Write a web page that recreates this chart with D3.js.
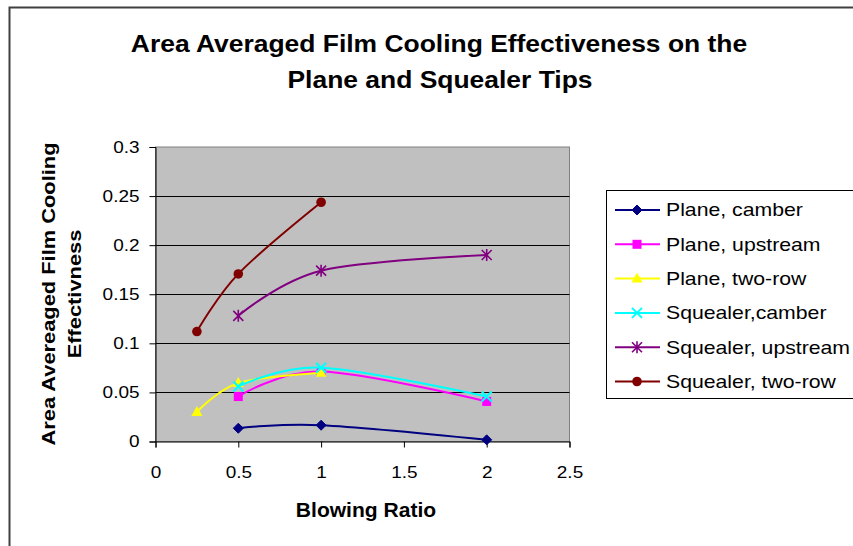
<!DOCTYPE html>
<html>
<head>
<meta charset="utf-8">
<script src="https://cdn.jsdelivr.net/npm/d3@7"></script>
<style>
  html, body { margin: 0; padding: 0; background: #fff; }
  svg { display: block; font-family: "Liberation Sans", Arial, sans-serif; }
</style>
</head>
<body>
<svg id="chart" width="853" height="546"></svg>
<script>
// Blowing ratios tested and the area-averaged effectiveness for each tip / hole configuration
const seriesNames = ["Plane, camber", "Plane, upstream", "Plane, two-row",
                     "Squealer,camber", "Squealer, upstream", "Squealer, two-row"];
const seriesX = [
  [0.5, 1, 2],
  [0.5, 1, 2],
  [0.25, 0.5, 1],
  [0.5, 1, 2],
  [0.5, 1, 2],
  [0.25, 0.5, 1]
];
const seriesY = [
  [0.0135, 0.0166, 0.0017],
  [0.0458, 0.0712, 0.0408],
  [0.0300, 0.0595, 0.0700],
  [0.0560, 0.0752, 0.0458],
  [0.1280, 0.1740, 0.1900],
  [0.1120, 0.1707, 0.2437]
];
const seriesColors = ["#000080", "#FF00FF", "#FFFF00", "#00FFFF", "#800080", "#800000"];
const seriesMarkers = ["diamond", "square", "triangle", "x", "star", "circle"];
const xTicks = [0, 0.5, 1, 1.5, 2, 2.5];
const yTicks = [0, 0.05, 0.1, 0.15, 0.2, 0.25, 0.3];

// glyphs in this chart are a little wider than plain Arial
const SX = 1.15;
function widen(sel, sx, ax, ay) {
  sel.attr("transform", `translate(${ax},${ay}) scale(${sx},1) translate(${-ax},${-ay})`);
}

const svg = d3.select("#chart");

// outer chart frame
svg.append("rect").attr("x", 9.5).attr("y", 7.5).attr("width", 860).attr("height", 560)
  .attr("fill", "#fff").attr("stroke", "#404040").attr("stroke-width", 2);

const plot = { left: 155.5, right: 569.5, top: 147, bottom: 441.5 };
const x = d3.scaleLinear().domain([0, 2.5]).range([plot.left, plot.right]);
const y = d3.scaleLinear().domain([0, 0.3]).range([plot.bottom, plot.top]);

// plot background
svg.append("rect").attr("x", plot.left).attr("y", plot.top)
  .attr("width", plot.right - plot.left).attr("height", plot.bottom - plot.top)
  .attr("fill", "#C0C0C0").attr("stroke", "#808080").attr("stroke-width", 1);

// horizontal gridlines
svg.append("g").selectAll("line").data(yTicks.filter(d => d > 0 && d < 0.3)).join("line")
  .attr("x1", plot.left).attr("x2", plot.right)
  .attr("y1", d => Math.round(y(d)) + 0.5).attr("y2", d => Math.round(y(d)) + 0.5)
  .attr("stroke", "#000").attr("stroke-width", 1);

// axes
const fmt = d => String(d);
const yAxis = svg.append("g").attr("transform", `translate(${plot.left},0)`)
  .call(d3.axisLeft(y).tickValues(yTicks).tickFormat(fmt).tickSizeOuter(0).tickSize(6).tickPadding(10));
const xAxis = svg.append("g").attr("transform", `translate(0,${plot.bottom})`)
  .call(d3.axisBottom(x).tickValues(xTicks).tickFormat(fmt).tickSizeOuter(0).tickSize(6).tickPadding(19));
[yAxis, xAxis].forEach(g => {
  g.select(".domain").attr("stroke", "#000").attr("stroke-width", 1);
  g.selectAll(".tick line").attr("stroke", "#000");
  g.selectAll("text").attr("font-size", 16.5).attr("fill", "#000")
    .attr("font-family", "'Liberation Sans', Arial, sans-serif");
});
yAxis.selectAll(".tick text").each(function () {
  const t = d3.select(this);
  widen(t, SX, +t.attr("x"), 0);
});
xAxis.selectAll(".tick text").each(function () { widen(d3.select(this), SX, 0, 0); });

// titles
const t1 = svg.append("text").attr("x", 439).attr("y", 52.5).attr("text-anchor", "middle")
  .attr("font-size", 23).attr("font-weight", "bold").text("Area Averaged Film Cooling Effectiveness on the");
widen(t1, SX, 439, 52.5);
const t2 = svg.append("text").attr("x", 440).attr("y", 88.5).attr("text-anchor", "middle")
  .attr("font-size", 23).attr("font-weight", "bold").text("Plane and Squealer Tips");
widen(t2, SX, 440, 88.5);

const xt = svg.append("text").attr("x", 366).attr("y", 517).attr("text-anchor", "middle")
  .attr("font-size", 19.5).attr("font-weight", "bold").text("Blowing Ratio");
widen(xt, 1.08, 366, 517);

const yl = svg.append("text").attr("transform", `translate(0,294) rotate(-90) scale(${SX},1)`)
  .attr("text-anchor", "middle").attr("font-size", 19).attr("font-weight", "bold");
yl.append("tspan").attr("x", 0).attr("y", 55).text("Area Avereaged Film Cooling");
yl.append("tspan").attr("x", 0).attr("y", 81).text("Effectivness");

// marker drawing
function drawMarker(g, type, color, cx, cy) {
  const s = 5;
  if (type === "diamond") {
    g.append("path").attr("d", `M${cx},${cy - s}L${cx + s},${cy}L${cx},${cy + s}L${cx - s},${cy}Z`)
      .attr("fill", color).attr("stroke", color);
  } else if (type === "square") {
    g.append("rect").attr("x", cx - 4.5).attr("y", cy - 4.5).attr("width", 9).attr("height", 9)
      .attr("fill", color);
  } else if (type === "triangle") {
    g.append("path").attr("d", `M${cx},${cy - 6}L${cx + 5.5},${cy + 4}L${cx - 5.5},${cy + 4}Z`)
      .attr("fill", color);
  } else if (type === "circle") {
    g.append("circle").attr("cx", cx).attr("cy", cy).attr("r", 4.8).attr("fill", color);
  } else if (type === "x") {
    g.append("path").attr("d", `M${cx - s},${cy - s}L${cx + s},${cy + s}M${cx - s},${cy + s}L${cx + s},${cy - s}`)
      .attr("stroke", color).attr("stroke-width", 2);
  } else if (type === "star") {
    g.append("path").attr("d", `M${cx - s},${cy - s}L${cx + s},${cy + s}M${cx - s},${cy + s}L${cx + s},${cy - s}M${cx},${cy - 6}L${cx},${cy + 6}`)
      .attr("stroke", color).attr("stroke-width", 1.6);
  }
}

// smoothed series lines
const line = d3.line().x(d => x(d[0])).y(d => y(d[1])).curve(d3.curveCatmullRom.alpha(0));
seriesNames.forEach((name, i) => {
  const pts = seriesX[i].map((v, j) => [v, seriesY[i][j]]);
  const g = svg.append("g");
  g.append("path").attr("d", line(pts)).attr("fill", "none")
    .attr("stroke", seriesColors[i]).attr("stroke-width", 2);
  pts.forEach(p => drawMarker(g, seriesMarkers[i], seriesColors[i], x(p[0]), y(p[1])));
});

// legend
svg.append("rect").attr("x", 606.5).attr("y", 190.5).attr("width", 260).attr("height", 208)
  .attr("fill", "#fff").attr("stroke", "#000").attr("stroke-width", 1);
seriesNames.forEach((name, i) => {
  const ly = 210 + i * 34.3;
  const g = svg.append("g");
  g.append("line").attr("x1", 615).attr("x2", 660).attr("y1", ly).attr("y2", ly)
    .attr("stroke", seriesColors[i]).attr("stroke-width", 2);
  drawMarker(g, seriesMarkers[i], seriesColors[i], 637, ly);
  const t = g.append("text").attr("x", 666).attr("y", ly + 6.5).attr("font-size", 18).text(name);
  widen(t, 1.18, 666, ly + 6.5);
});
</script>
</body>
</html>
